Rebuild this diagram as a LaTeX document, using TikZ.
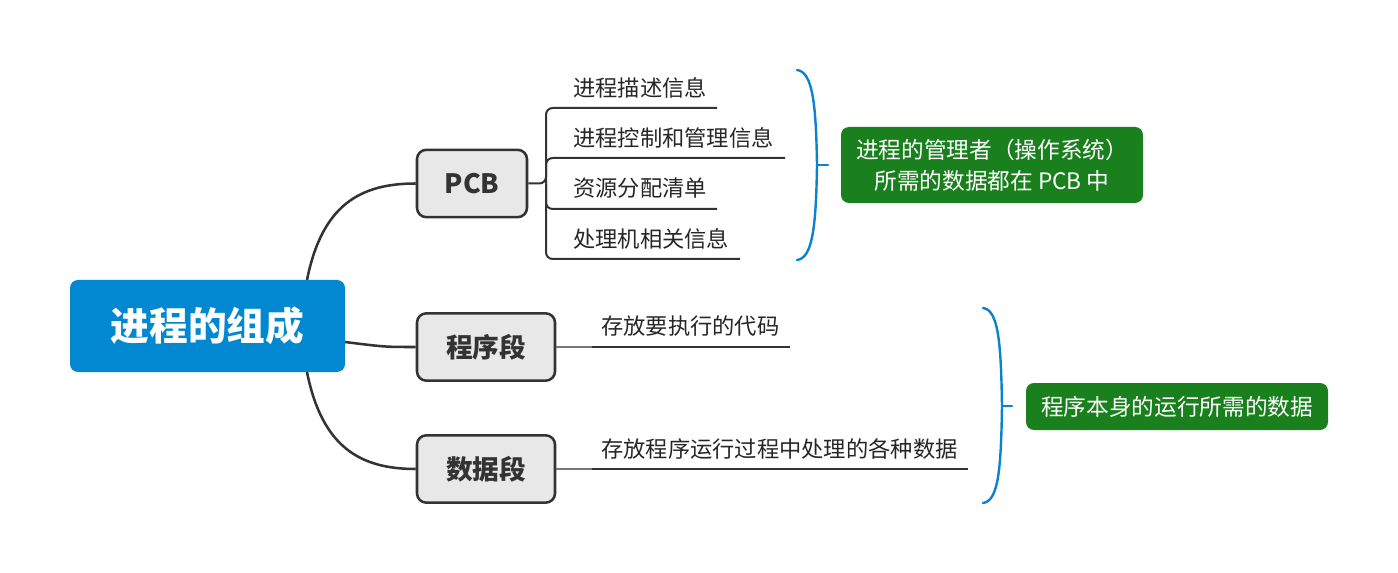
\documentclass[tikz,border=0pt]{standalone}
\usepackage{fontspec}
\setmainfont{Noto Sans CJK SC}
\definecolor{rootblue}{RGB}{2,136,209}
\definecolor{bracecol}{RGB}{10,130,210}
\definecolor{notegreen}{RGB}{26,128,30}
\definecolor{boxfill}{RGB}{232,232,232}
\definecolor{linecol}{RGB}{51,51,51}
\definecolor{stubcol}{RGB}{120,120,120}
\tikzset{
  rootbox/.style={fill=rootblue, rounded corners=6pt, inner sep=0pt, text=white,
    font=\fontsize{29pt}{34pt}\selectfont\bfseries, minimum width=206.25pt, minimum height=69pt},
  topicbox/.style={fill=boxfill, draw=linecol, line width=1.9pt, rounded corners=7pt, inner sep=0pt,
    text=linecol, font=\fontsize{20pt}{24pt}\selectfont\bfseries, minimum height=50.5pt},
  itemtext/.style={anchor=west, inner sep=0pt, text=black!85, font=\fontsize{16.7pt}{20pt}\selectfont},
  notebox/.style={fill=notegreen, rounded corners=6pt, inner sep=0pt, text=white, align=center,
    font=\fontsize{17pt}{23pt}\selectfont, minimum width=226.5pt},
  conn/.style={draw=linecol, line width=1.9pt},
  uline/.style={draw=linecol, line width=1.5pt, rounded corners=5pt},
  bracepath/.style={draw=bracecol, line width=1.8pt, line cap=round},
}
\begin{document}
\begin{tikzpicture}[x=0.75pt, y=-0.75pt]
\useasboundingbox (0,0) rectangle (1398,573);

% main nodes
\node[rootbox] (root) at (207.5,326) {进程的组成};
\node[topicbox, minimum width=82.5pt] (pcb) at (472,183.5) {PCB};
\node[topicbox, minimum width=103.5pt] (prog) at (486,347) {程序段};
\node[topicbox, minimum width=103.5pt] (data) at (486,469) {数据段};

% connectors from root
\coordinate (rtop) at (307,280);
\coordinate (rbot) at (307,372);
\coordinate (rmid) at (345,342);
\draw[conn] (rtop) .. controls (322,205) and (360,183.5) .. (pcb.west);
\draw[conn] (rmid) .. controls (385,347) .. (prog.west);
\draw[conn] (rbot) .. controls (322,447) and (360,469) .. (data.west);

% PCB items
\coordinate (pj) at (546,183.5);
\coordinate (e1) at (717,108);
\coordinate (e2) at (785,158);
\coordinate (e3) at (717,209);
\coordinate (e4) at (740,259);
\draw[uline] (pcb.east) -- (pj) -- (546,108) -- (e1);
\draw[uline] (pj) -- (546,158) -- (e2);
\draw[uline] (pj) -- (546,209) -- (e3);
\draw[uline] (pj) -- (546,259) -- (e4);
\node[itemtext] (i1) at (573,88) {进程描述信息};
\node[itemtext] (i2) at (573,137.5) {进程控制和管理信息};
\node[itemtext] (i3) at (573,188) {资源分配清单};
\node[itemtext] (i4) at (573,238.5) {处理机相关信息};

% program segment item
\coordinate (ps) at (592,347);
\coordinate (pe) at (790,347);
\draw[draw=stubcol, line width=1.5pt] (prog.east) -- (ps);
\draw[uline] (ps) -- (pe);
\node[itemtext] (p1) at (601,326) {存放要执行的代码};

% data segment item
\coordinate (ds) at (592,469);
\coordinate (de) at (968,469);
\draw[draw=stubcol, line width=1.5pt] (data.east) -- (ds);
\draw[uline] (ds) -- (de);
\node[itemtext] (d1) at (601,449) {存放程序运行过程中处理的各种数据};

% braces
\coordinate (b1t) at (797,70);
\coordinate (b1m) at (817,165);
\coordinate (b1b) at (797,260);
\coordinate (b1k) at (828,165);
\draw[bracepath] (b1t) .. controls (812,72) and (816,100) .. (b1m) .. controls (816,230) and (812,258) .. (b1b);
\draw[bracepath] (b1m) -- (b1k);

\coordinate (b2t) at (983,308);
\coordinate (b2m) at (1002,406);
\coordinate (b2b) at (983,503);
\coordinate (b2k) at (1012,406);
\draw[bracepath] (b2t) .. controls (998,310) and (1001,340) .. (b2m) .. controls (1001,472) and (998,501) .. (b2b);
\draw[bracepath] (b2m) -- (b2k);

% notes
\node[notebox, minimum height=57pt] (n1) at (992,165) {进程的管理者（操作系统）\\ 所需的数据都在 PCB 中};
\node[notebox, minimum height=35.25pt] (n2) at (1177,406.5) {程序本身的运行所需的数据};
\end{tikzpicture}
\end{document}
